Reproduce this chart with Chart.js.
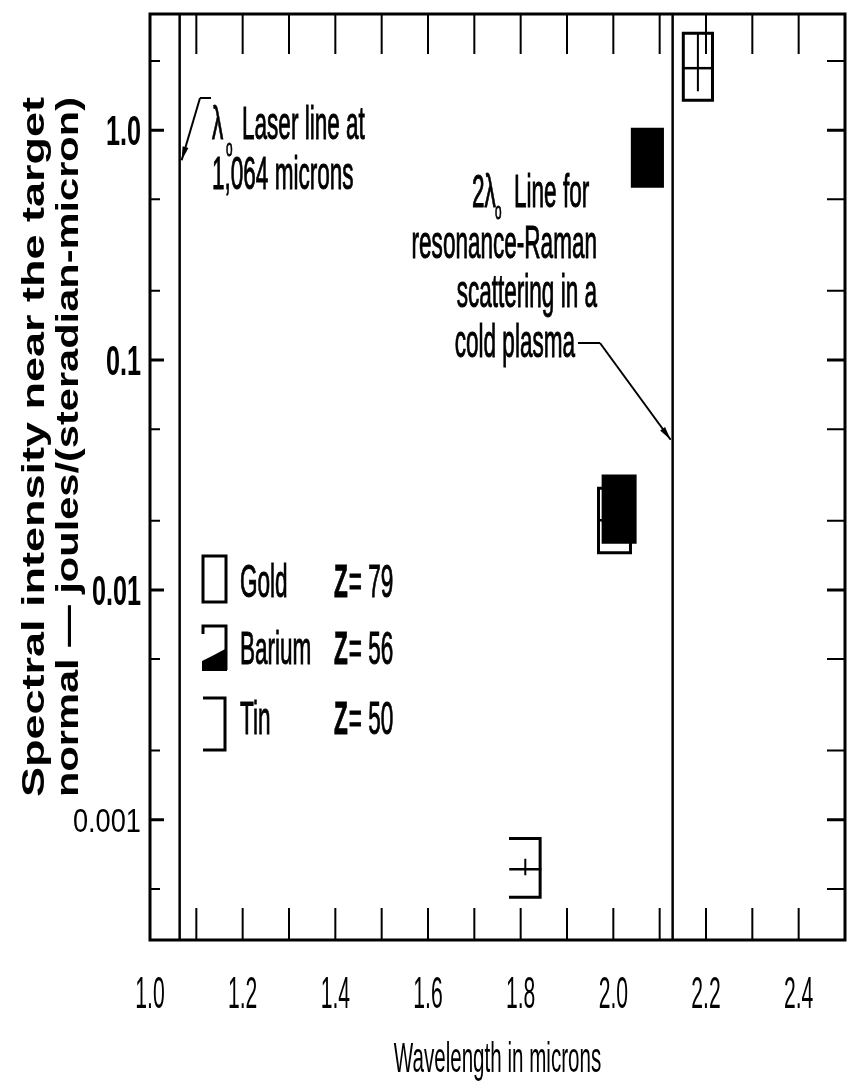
<!DOCTYPE html>
<html>
<head>
<meta charset="utf-8">
<script src="https://cdn.jsdelivr.net/npm/chart.js@4.4.1/dist/chart.umd.min.js"></script>
<style>
  html, body { margin: 0; padding: 0; background: #fff; }
  #wrap { width: 853px; height: 1092px; }
</style>
</head>
<body>
<div id="wrap"><canvas id="myChart" width="853" height="1092"></canvas></div>
<script>
// axes
const xRange = [1.0, 2.5];
const yRange = [0.0003, 3.2];
const xTickLabels = [1.0, 1.2, 1.4, 1.6, 1.8, 2.0, 2.2, 2.4];
const xMinorTicks = [1.1, 1.2, 1.3, 1.4, 1.5, 1.6, 1.7, 1.8, 1.9, 2.0, 2.1, 2.2, 2.3, 2.4];
const yTickLabels = [1.0, 0.1, 0.01, 0.001];
const yTickText = ["1.0", "0.1", "0.01", "0.001"];
const yMinorTicks = [2, 0.5, 0.2, 0.05, 0.02, 0.005, 0.002, 0.0005];

// reference lines (microns)
const laserLine = 1.064;
const ramanLine = 2.128;

// measured boxes
const boxElement = ["Gold", "Barium", "Gold", "Barium", "Tin"];
const boxXLow = [2.151, 2.041, 1.968, 1.978, 1.778];
const boxXHigh = [2.214, 2.106, 2.037, 2.047, 1.842];
const boxYLow = [1.35, 0.57, 0.0145, 0.0161, 0.00046];
const boxYHigh = [2.64, 1.01, 0.0277, 0.0313, 0.00083];
const boxYMid = [1.86, null, 0.0201, null, 0.00061];
const stemTop = [2.64, null, null, null, 0.00067];
const stemBottom = [1.49, null, null, null, 0.00058];

// legend
const legendNames = ["Gold", "Barium", "Tin"];
const legendZ = ["= 79", "= 56", "= 50"];

const ink = "#000";
const font = "'Liberation Sans', Arial, sans-serif";

function lineSet(points, width) {
  return {
    data: points,
    borderColor: ink,
    borderWidth: width,
    pointRadius: 0,
    fill: false,
    borderCapStyle: "square",
    borderJoinStyle: "miter",
  };
}

const datasets = [];
[laserLine, ramanLine].forEach(function (v) {
  datasets.push(lineSet([{ x: v, y: yRange[0] }, { x: v, y: yRange[1] }], 2.5));
});

boxElement.forEach(function (el, i) {
  const xl = boxXLow[i], xh = boxXHigh[i], yl = boxYLow[i], yh = boxYHigh[i];
  let ds;
  if (el === "Tin") {
    ds = lineSet([{ x: xl, y: yh }, { x: xh, y: yh }, { x: xh, y: yl }, { x: xl, y: yl }], 3);
  } else {
    ds = lineSet([{ x: xl, y: yh }, { x: xh, y: yh }, { x: xh, y: yl }, { x: xl, y: yl }, { x: xl, y: yh }], 3);
    ds.fill = "shape";
    ds.backgroundColor = el === "Barium" ? ink : "#fff";
  }
  datasets.push(ds);
  if (boxYMid[i] !== null) {
    datasets.push(lineSet([{ x: xl, y: boxYMid[i] }, { x: xh, y: boxYMid[i] }], 2.5));
  }
  if (stemTop[i] !== null) {
    const xc = (xl + xh) / 2;
    datasets.push(lineSet([{ x: xc, y: stemTop[i] }, { x: xc, y: stemBottom[i] }], 2));
  }
});
// first dataset at the bottom
datasets.forEach(function (d, i) { d.order = -i; });

// condensed text, like the typeset original
function squeeze(ctx, text, px, py, opt) {
  opt = opt || {};
  const size = opt.size || 46;
  const sx = opt.sx || 0.49;
  ctx.save();
  ctx.font = (opt.weight || "normal") + " " + size + "px " + font;
  ctx.textAlign = opt.align || "left";
  ctx.textBaseline = opt.baseline || "alphabetic";
  ctx.fillStyle = ink;
  ctx.strokeStyle = ink;
  ctx.translate(px, py);
  if (opt.rotate) ctx.rotate(opt.rotate);
  ctx.scale(sx, 1);
  ctx.fillText(text, 0, 0);
  if (opt.heavy) {
    ctx.lineWidth = opt.heavy;
    ctx.strokeText(text, 0, 0);
  }
  const w = ctx.measureText(text).width * sx;
  ctx.restore();
  return w;
}

function note(ctx, text, px, py, opt) {
  return squeeze(ctx, text, px, py, Object.assign({ heavy: 1 }, opt || {}));
}

function leader(ctx, x0, y0, x1, y1) {
  ctx.beginPath();
  ctx.moveTo(x0, y0);
  ctx.lineTo(x1, y1);
  ctx.stroke();
  const a = Math.atan2(y1 - y0, x1 - x0);
  ctx.beginPath();
  ctx.moveTo(x1, y1);
  ctx.lineTo(x1 - 14 * Math.cos(a - 0.22), y1 - 14 * Math.sin(a - 0.22));
  ctx.lineTo(x1 - 14 * Math.cos(a + 0.22), y1 - 14 * Math.sin(a + 0.22));
  ctx.closePath();
  ctx.fill();
}

const sketchPlugin = {
  id: "sketch",
  afterDraw(chart) {
    const { ctx, chartArea: a, scales: { x, y } } = chart;
    ctx.save();
    ctx.strokeStyle = ink;
    ctx.fillStyle = ink;

    // frame
    ctx.lineWidth = 3;
    ctx.strokeRect(a.left, a.top, a.right - a.left, a.bottom - a.top);

    // inward ticks
    ctx.lineWidth = 2;
    xMinorTicks.forEach(function (v) {
      const px = x.getPixelForValue(v);
      ctx.beginPath();
      ctx.moveTo(px, a.top); ctx.lineTo(px, a.top + 40);
      ctx.moveTo(px, a.bottom); ctx.lineTo(px, a.bottom - 32);
      ctx.stroke();
    });
    yTickLabels.concat(yMinorTicks).forEach(function (v, i) {
      const py = y.getPixelForValue(v);
      const major = i < yTickLabels.length;
      ctx.lineWidth = major ? 3 : 2;
      ctx.beginPath();
      ctx.moveTo(a.left, py); ctx.lineTo(a.left + (major ? 14 : 10), py);
      ctx.moveTo(a.right, py); ctx.lineTo(a.right - 18, py);
      ctx.stroke();
    });

    // tick labels
    xTickLabels.forEach(function (v) {
      squeeze(ctx, v.toFixed(1), x.getPixelForValue(v), a.bottom + 68, { size: 44, sx: 0.48, align: "center" });
    });
    yTickLabels.forEach(function (v, i) {
      const py = y.getPixelForValue(v);
      if (v >= 0.01) {
        squeeze(ctx, yTickText[i], a.left - 9, py + 15, { size: 42, sx: 0.6, weight: "bold", align: "right" });
      } else {
        squeeze(ctx, yTickText[i], a.left - 9, py + 12, { size: 34, sx: 0.8, align: "right" });
      }
    });

    // axis titles
    squeeze(ctx, "Wavelength in microns", (a.left + a.right) / 2, 1072, { size: 42, sx: 0.49, align: "center" });
    const yTitle = ["Spectral intensity near the target", "normal \u2014 joules/(steradian-micron)"];
    yTitle.forEach(function (t, i) {
      ctx.save();
      ctx.font = "bold 32px " + font;
      const sx = 700 / ctx.measureText(t).width;
      ctx.restore();
      squeeze(ctx, t, 35 + i * 34, 447, { size: 32, sx: sx, weight: "bold", align: "center", baseline: "middle", rotate: -Math.PI / 2 });
    });

    // laser line note
    ctx.lineWidth = 2;
    note(ctx, "\u03bb", 212, 139);
    note(ctx, "o", 226, 156, { size: 24 });
    note(ctx, "Laser line at", 242, 139);
    note(ctx, "1,064 microns", 212, 189);
    ctx.lineWidth = 2;
    ctx.beginPath();
    ctx.moveTo(200, 98); ctx.lineTo(211, 98);
    ctx.stroke();
    leader(ctx, 200, 98, x.getPixelForValue(laserLine) + 2, y.getPixelForValue(0.74));

    // resonance-Raman note
    note(ctx, "2\u03bb", 472, 207);
    note(ctx, "o", 495, 219, { size: 24 });
    note(ctx, "Line for", 514, 207);
    note(ctx, "resonance-Raman", 597, 258, { align: "right" });
    note(ctx, "scattering in a", 597, 307, { align: "right" });
    note(ctx, "cold plasma", 575, 357, { align: "right" });
    ctx.lineWidth = 2;
    ctx.beginPath();
    ctx.moveTo(578, 343); ctx.lineTo(600, 343);
    ctx.stroke();
    leader(ctx, 600, 343, x.getPixelForValue(ramanLine) - 2, y.getPixelForValue(0.045));

    // legend
    ctx.lineWidth = 3;
    ctx.strokeRect(203, 556, 23, 46);
    ctx.beginPath();
    ctx.moveTo(203, 634); ctx.lineTo(203, 626); ctx.lineTo(226, 626); ctx.lineTo(226, 670);
    ctx.stroke();
    ctx.beginPath();
    ctx.moveTo(202, 671); ctx.lineTo(227, 671); ctx.lineTo(227, 648);
    ctx.lineTo(214, 655); ctx.lineTo(202, 661);
    ctx.closePath();
    ctx.fill();
    ctx.beginPath();
    ctx.moveTo(203, 698); ctx.lineTo(225, 698); ctx.lineTo(225, 750); ctx.lineTo(203, 750);
    ctx.stroke();
    const rowBase = [597, 664, 734];
    legendNames.forEach(function (n, i) {
      note(ctx, n, 240, rowBase[i]);
      const zw = note(ctx, "Z", 334, rowBase[i], { weight: "bold" });
      note(ctx, legendZ[i], 334 + zw + 1, rowBase[i]);
    });

    ctx.restore();
  },
};

const chartCanvas = document.getElementById("myChart");

new Chart(chartCanvas, {
  type: "line",
  data: { datasets: datasets },
  options: {
    responsive: false,
    animation: false,
    layout: { padding: { top: 14, right: 8, left: 0, bottom: 0 } },
    plugins: {
      legend: { display: false },
      tooltip: { enabled: false },
    },
    scales: {
      x: {
        type: "linear",
        min: xRange[0],
        max: xRange[1],
        grid: { display: false },
        border: { display: false },
        ticks: { display: false },
        afterFit(scale) { scale.height = 152; },
      },
      y: {
        type: "logarithmic",
        min: yRange[0],
        max: yRange[1],
        grid: { display: false },
        border: { display: false },
        ticks: { display: false },
        afterFit(scale) { scale.width = 150; },
      },
    },
  },
  plugins: [sketchPlugin],
});
</script>
</body>
</html>
